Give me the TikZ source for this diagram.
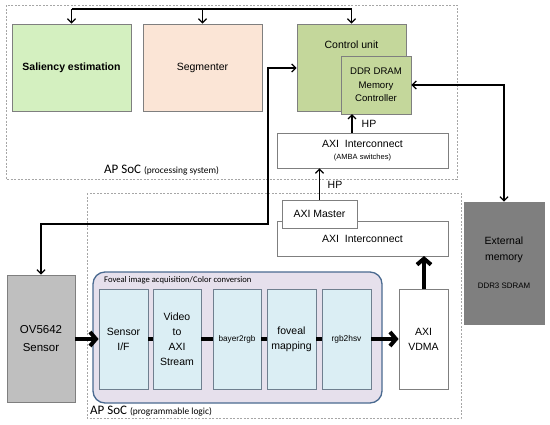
\documentclass[tikz,border=0pt]{standalone}
\usepackage{fontspec}
\setmainfont{Liberation Sans}
\newfontfamily\calib{Carlito}
\usetikzlibrary{arrows.meta}
\definecolor{salfill}{HTML}{D4F0C0}
\definecolor{segfill}{HTML}{FBE5D6}
\definecolor{ctrlfill}{HTML}{C4D79B}
\definecolor{sensfill}{HTML}{BFBFBF}
\definecolor{extfill}{HTML}{7F7F7F}
\definecolor{fovfill}{HTML}{E6E0EC}
\definecolor{fovdraw}{HTML}{4A6A90}
\definecolor{innfill}{HTML}{DBEEF4}
\definecolor{inndraw}{HTML}{6F7F8F}
\definecolor{boxdraw}{HTML}{7F7F7F}
\definecolor{dashc}{HTML}{A6A6A6}
\begin{document}
\begin{tikzpicture}[x=1pt,y=-1pt,
  blk/.style={draw=boxdraw,line width=0.8pt,inner sep=0pt,align=center,font=\fontsize{10.5}{15}\selectfont},
  wblk/.style={blk,fill=white},
  inner/.style={draw=inndraw,line width=0.8pt,fill=innfill,inner sep=0pt,align=center,minimum width=49pt,minimum height=100pt,font=\fontsize{10.5}{15}\selectfont},
  area/.style={draw=dashc,line width=0.6pt,dash pattern=on 2pt off 1.5pt},
  thinarr/.style={line width=1.3pt,-{Straight Barb[length=4pt,width=8pt]}},
  bothar/.style={line width=1.3pt,{Straight Barb[length=4pt,width=8pt]}-{Straight Barb[length=4pt,width=8pt]}},
  thickarr/.style={line width=4pt,-{Straight Barb[length=6pt,width=14pt]}},
  thickln/.style={line width=4pt},
  lbl/.style={inner sep=0pt,font=\fontsize{10.5}{15}\selectfont}
]
\useasboundingbox (0,0) rectangle (550,424);
% dashed areas
\draw[area] (6,5) rectangle (457,179);
\draw[area] (87,193) rectangle (461,418);
\node[anchor=base west,inner sep=0pt] (pslbl) at (104,173) {\calib\fontsize{13}{15}\selectfont AP SoC {\fontsize{9.4}{11}\selectfont (processing system)}};
\node[anchor=base west,inner sep=0pt] (pllbl) at (90,414) {\calib\fontsize{13}{15}\selectfont AP SoC {\fontsize{9.4}{11}\selectfont (programmable logic)}};

% PS blocks
\node[blk,fill=salfill,minimum width=119pt,minimum height=87pt,font=\bfseries\fontsize{10.5}{15}\selectfont] (sal) at (71.5,67.5) {Saliency estimation};
\node[blk,fill=segfill,minimum width=119pt,minimum height=87pt] (seg) at (202.5,67.5) {Segmenter};
\node[blk,fill=ctrlfill,minimum width=109pt,minimum height=87pt] (ctrl) at (351.5,67.5) {};
\node[lbl] (ctrlt) at (351.5,45) {Control unit};
\node[blk,fill=ctrlfill,minimum width=70pt,minimum height=58pt,font=\fontsize{9.6}{13.5}\selectfont] (ddr) at (376,85) {DDR DRAM\\Memory\\Controller};
\node[wblk,minimum width=171pt,minimum height=35pt,font=\fontsize{10.5}{13}\selectfont] (amba) at (362.5,150.5) {AXI~~Interconnect\\[-1pt]{\fontsize{7.5}{9}\selectfont (AMBA switches)}};

% PL blocks
\node[wblk,minimum width=171pt,minimum height=35pt] (axii) at (362.5,238.5) {AXI~~Interconnect};
\node[wblk,minimum width=75pt,minimum height=28pt] (axim) at (319.5,214) {AXI Master};
\node[wblk,minimum width=49pt,minimum height=100pt] (vdma) at (423.5,339) {AXI\\VDMA};

\node[draw=fovdraw,line width=1.3pt,fill=fovfill,rounded corners=12pt,minimum width=289pt,minimum height=131pt,inner sep=0pt] (fov) at (237.5,337.5) {};
\node[anchor=west,inner sep=0pt,font=\calib\fontsize{8.6}{10}\selectfont] (fovt) at (104,280) {Foveal image acquisition/Color conversion};
\node[inner] (sif) at (123.5,339) {Sensor\\I/F};
\node[inner,minimum width=48pt] (v2a) at (177,339) {Video\\to\\AXI\\Stream};
\node[inner,minimum width=48pt,font=\fontsize{8.2}{10}\selectfont] (b2r) at (237,339) {bayer2rgb};
\node[inner] (fmap) at (291.5,339) {foveal\\mapping};
\node[inner,font=\fontsize{8.4}{10}\selectfont] (hsv) at (346.5,339) {rgb2hsv};

% external blocks
\node[blk,fill=sensfill,minimum width=68pt,minimum height=127pt,font=\fontsize{11.5}{18}\selectfont] (sens) at (41,338.5) {OV5642\\Sensor};
\node[blk,fill=extfill,minimum width=80pt,minimum height=122pt] (ext) at (504,263) {};
\node[lbl,align=center,font=\fontsize{10.5}{16}\selectfont] (extt) at (504,250) {External\\memory};
\node[lbl,font=\fontsize{7.9}{10}\selectfont] (extd) at (504,286) {DDR3 SDRAM};

% HP labels
\node[lbl] (hp1) at (369,124) {HP};
\node[lbl] (hp2) at (335,185) {HP};

% top bus
\coordinate (b1) at (71.5,9);
\coordinate (b2) at (202.5,9);
\coordinate (b3) at (351.5,9);
\draw[line width=1.3pt] (b1) -- (b3);
\draw[thinarr] (b1) -- (sal.north);
\draw[thinarr] (b2) -- (seg.north);
\draw[thinarr] (b3) -- (ctrl.north);

% control <-> sensor
\coordinate (c1) at (268,68);
\coordinate (c2) at (268,224);
\coordinate (c3) at (41,224);
\draw[bothar] (ctrl.west |- c1) -- (c1) -- (c2) -- (c3) -- (sens.north);

% ddr <-> external
\coordinate (d1) at (504,85);
\draw[bothar] (ddr.east |- d1) -- (d1) -- (ext.north);

% HP arrows
\coordinate (h1) at (352,133);
\coordinate (h1e) at (352,114);
\draw[thinarr] (h1) -- (h1e);
\draw[thinarr] (axim.north) -- (axim.north |- amba.south);

% pipeline
\draw[thickarr] (sens.east |- sif.west) -- (sif.west);
\draw[thickln] (sif.east) -- (v2a.west);
\draw[thickln] (v2a.east) -- (b2r.west);
\draw[thickln] (b2r.east) -- (fmap.west);
\draw[thickln] (fmap.east) -- (hsv.west);
\draw[thickarr] (hsv.east) -- (vdma.west);
\coordinate (v1) at (424,289);
\coordinate (v2) at (424,256);
\draw[thickarr] (v1) -- (v2);
\end{tikzpicture}
\end{document}
